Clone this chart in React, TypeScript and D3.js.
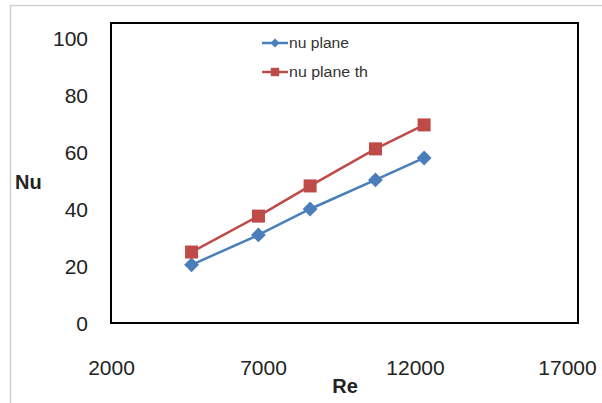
import React, { useEffect, useRef } from 'react';
import * as d3 from 'd3';

const reValues = [4650, 6850, 8550, 10700, 12300];
const nuPlane = [20.4, 30.9, 40.0, 50.2, 57.9];
const nuPlaneTh = [24.9, 37.5, 48.1, 61.1, 69.5];
const xTicks = [2000, 7000, 12000, 17000];
const yTicks = [0, 20, 40, 60, 80, 100];
const seriesNames = ['nu plane', 'nu plane th'];

const BLUE = '#4a7ebb';
const RED = '#be4b48';

const App: React.FC = () => {
  const svgRef = useRef<SVGSVGElement | null>(null);

  useEffect(() => {
    if (!svgRef.current) return;
    const svg = d3.select(svgRef.current);
    svg.selectAll('*').remove();

    const width = 602;
    const height = 403;
    const font = '"Liberation Sans", Arial, sans-serif';

    // scales
    const x = d3.scaleLinear().domain([2000, 17000]).range([111, 567]);
    const y = d3.scaleLinear().domain([0, 100]).range([323, 38]);

    // outer chart area border
    svg.append('rect')
      .attr('x', 10.5).attr('y', 5.5)
      .attr('width', width + 20).attr('height', height + 20)
      .attr('fill', 'none')
      .attr('stroke', '#d0d0d0')
      .attr('stroke-width', 1.5);

    // plot area box
    const boxTop = 23;
    const boxRight = 578;
    svg.append('rect')
      .attr('x', x(2000)).attr('y', boxTop)
      .attr('width', boxRight - x(2000)).attr('height', y(0) - boxTop)
      .attr('fill', 'none')
      .attr('stroke', '#000')
      .attr('stroke-width', 2);

    // y axis labels
    const yAxis = svg.append('g')
      .attr('transform', 'translate(88,0)')
      .call(d3.axisLeft(y).tickValues(yTicks).tickSize(0).tickPadding(0));
    yAxis.select('.domain').remove();
    yAxis.selectAll('text')
      .style('font-family', font)
      .style('font-size', '21px')
      .attr('fill', '#222')
      .attr('dy', '0.35em');

    // x axis labels
    const xAxis = svg.append('g')
      .attr('transform', 'translate(0,360)')
      .call(d3.axisBottom(x).tickValues(xTicks).tickSize(0).tickPadding(0).tickFormat(d3.format('d')));
    xAxis.select('.domain').remove();
    xAxis.selectAll('text')
      .style('font-family', font)
      .style('font-size', '21px')
      .attr('fill', '#222')
      .attr('dy', '0.71em');

    // axis titles
    svg.append('text')
      .attr('x', 345).attr('y', 393)
      .attr('text-anchor', 'middle')
      .style('font-family', font)
      .style('font-size', '20px')
      .style('font-weight', 'bold')
      .attr('fill', '#222')
      .text('Re');
    svg.append('text')
      .attr('x', 15).attr('y', 189)
      .style('font-family', font)
      .style('font-size', '20px')
      .style('font-weight', 'bold')
      .attr('fill', '#222')
      .text('Nu');

    // diamond = square turned 45deg
    const series = [
      { name: seriesNames[0], values: nuPlane, color: BLUE, rotate: 45, size: 110 },
      { name: seriesNames[1], values: nuPlaneTh, color: RED, rotate: 0, size: 170 },
    ];

    const line = d3.line<number>()
      .x((_, i) => x(reValues[i]))
      .y(d => y(d));

    series.forEach(s => {
      svg.append('path')
        .datum(s.values)
        .attr('d', line)
        .attr('fill', 'none')
        .attr('stroke', s.color)
        .attr('stroke-width', 2.5);
      svg.append('g')
        .selectAll('path')
        .data(s.values)
        .enter()
        .append('path')
        .attr('transform', (d, i) => `translate(${x(reValues[i])},${y(d)}) rotate(${s.rotate})`)
        .attr('d', d3.symbol().type(d3.symbolSquare).size(s.size)())
        .attr('fill', s.color);
    });

    // legend
    series.forEach((s, i) => {
      const ly = 43 + i * 29;
      svg.append('line')
        .attr('x1', 262).attr('x2', 288)
        .attr('y1', ly).attr('y2', ly)
        .attr('stroke', s.color)
        .attr('stroke-width', 2.5);
      svg.append('path')
        .attr('transform', `translate(275,${ly}) rotate(${s.rotate})`)
        .attr('d', d3.symbol().type(d3.symbolSquare).size(i === 0 ? 40 : 70)())
        .attr('fill', s.color);
      svg.append('text')
        .attr('x', 289).attr('y', ly + 5)
        .style('font-family', font)
        .style('font-size', '14px')
        .attr('fill', '#333')
        .attr('textLength', i === 0 ? 60 : 79)
        .attr('lengthAdjust', 'spacingAndGlyphs')
        .text(s.name);
    });
  }, []);

  return (
    <svg
      ref={svgRef}
      width={602}
      height={403}
      style={{ position: 'absolute', left: 0, top: 0, background: '#fff' }}
    />
  );
};

export default App;
